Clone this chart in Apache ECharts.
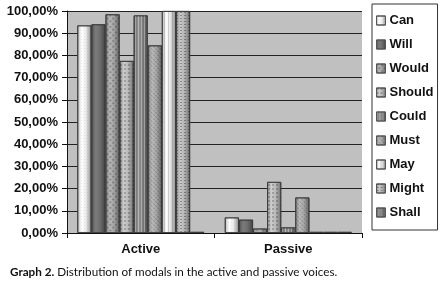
<!DOCTYPE html>
<html>
<head>
<meta charset="utf-8">
<script src="https://cdn.jsdelivr.net/npm/echarts@6/dist/echarts.min.js"></script>
<style>
  html, body { margin: 0; padding: 0; background: #fff; }
  #chart { width: 448px; height: 290px; }
</style>
</head>
<body>
<div id="chart"></div>
<script>
// categories and values
const voices = ["Active", "Passive"];
const modals = ["Can", "Will", "Would", "Should", "Could", "Must", "May", "Might", "Shall"];
const activeValues = [93.5, 94, 98.5, 77.5, 98, 84.5, 100, 100, 0.5];
const passiveValues = [7, 6, 2, 23, 2.5, 16, 0.5, 0.5, 0.5];
const yTicks = [0, 10, 20, 30, 40, 50, 60, 70, 80, 90, 100];

// base grey per modal + pattern overlay
const baseColors = ["#ececec", "#6e6e6e", "#a4a4a4", "#b8b8b8", "#808080", "#a8a8a8", "#e6e6e6", "#b4b4b4", "#8a8a8a"];
const decals = [
  { symbol: "rect", symbolSize: 0.5, dashArrayX: [1, 2], dashArrayY: [1, 2], color: "rgba(0,0,0,0.25)" },
  { symbol: "rect", symbolSize: 1, dashArrayX: [1, 0], dashArrayY: [1, 0], color: "rgba(0,0,0,0)" },
  { symbol: "rect", symbolSize: 1, dashArrayX: [2, 2], dashArrayY: [2, 2], rotation: Math.PI / 4, color: "rgba(0,0,0,0.22)" },
  { symbol: "rect", symbolSize: 1, dashArrayX: [2, 2], dashArrayY: [2, 2], color: "rgba(0,0,0,0.2)" },
  { symbol: "rect", symbolSize: 1, dashArrayX: [1, 2], dashArrayY: [1, 0], color: "rgba(255,255,255,0.35)" },
  { symbol: "rect", symbolSize: 1, dashArrayX: [1, 2], dashArrayY: [2, 1], rotation: -Math.PI / 4, color: "rgba(0,0,0,0.2)" },
  { symbol: "rect", symbolSize: 1, dashArrayX: [1, 3], dashArrayY: [1, 0], color: "rgba(0,0,0,0.15)" },
  { symbol: "rect", symbolSize: 1, dashArrayX: [2, 2], dashArrayY: [1, 2], color: "rgba(0,0,0,0.3)" },
  { symbol: "rect", symbolSize: 1, dashArrayX: [1, 2], dashArrayY: [1, 0], color: "rgba(0,0,0,0.2)" }
];

function shade(hex, f) {
  const n = parseInt(hex.slice(1), 16);
  const ch = (v) => Math.max(0, Math.min(255, Math.round(v * f)));
  const r = ch((n >> 16) & 255), g = ch((n >> 8) & 255), b = ch(n & 255);
  return `rgb(${r},${g},${b})`;
}

// cylinder look: light left-centre, dark edges
function cylinder(hex) {
  return new echarts.graphic.LinearGradient(0, 0, 1, 0, [
    { offset: 0, color: shade(hex, 0.75) },
    { offset: 0.3, color: shade(hex, 1.12) },
    { offset: 0.6, color: hex },
    { offset: 1, color: shade(hex, 0.6) }
  ]);
}

const fmtPct = (v) => v.toFixed(2).replace(".", ",") + "%";

const chart = echarts.init(document.getElementById("chart"), null, { renderer: "canvas" });

const option = {
  animation: false,
  textStyle: { fontFamily: "Liberation Sans, Arial, sans-serif" },
  grid: {
    left: 67,
    right: 86,
    top: 11,
    bottom: 57,
    show: true,
    backgroundColor: "#c0c0c0",
    borderWidth: 0
  },
  legend: {
    orient: "vertical",
    left: 372,
    top: 4,
    padding: [10, 4, 11, 4],
    itemGap: 11,
    itemWidth: 9,
    itemHeight: 9,
    icon: "rect",
    backgroundColor: "#fff",
    borderColor: "#333",
    borderWidth: 1,
    borderRadius: 0,
    itemStyle: { borderColor: "#555", borderWidth: 1 },
    textStyle: { fontSize: 13, fontWeight: "bold", color: "#111", padding: [0, 0, 0, -1] },
    data: modals
  },
  xAxis: {
    type: "category",
    data: voices,
    axisLine: { lineStyle: { color: "#111", width: 1 } },
    axisTick: { show: true, length: 5, lineStyle: { color: "#111" } },
    axisLabel: { fontSize: 13, fontWeight: "bold", color: "#111", margin: 10 }
  },
  yAxis: {
    type: "value",
    min: yTicks[0],
    max: yTicks[yTicks.length - 1],
    interval: 10,
    axisLine: { show: true, lineStyle: { color: "#111", width: 1 } },
    axisTick: { show: true, length: 5, inside: false, lineStyle: { color: "#111" } },
    axisLabel: { fontSize: 13, fontWeight: "bold", color: "#111", margin: 9, formatter: fmtPct },
    splitLine: { show: true, lineStyle: { color: "#222", width: 1 } }
  },
  series: modals.map((name, i) => ({
    name: name,
    type: "bar",
    barGap: "0%",
    barCategoryGap: "14%",
    data: [activeValues[i], passiveValues[i]],
    itemStyle: {
      color: cylinder(baseColors[i]),
      borderColor: "#3a3a3a",
      borderWidth: 0.8,
      decal: decals[i]
    }
  })),
  graphic: [
    {
      type: "text",
      left: 10,
      top: 266,
      style: {
        text: "{b|Graph 2.} Distribution of modals in the active and passive voices.",
        fill: "#111",
        font: "11.7px Lato, 'Open Sans', sans-serif",
        rich: {
          b: { fontWeight: "bold", fontSize: 11.7, fontFamily: "Lato, 'Open Sans', sans-serif" }
        }
      }
    }
  ]
};

chart.setOption(option);
</script>
</body>
</html>
